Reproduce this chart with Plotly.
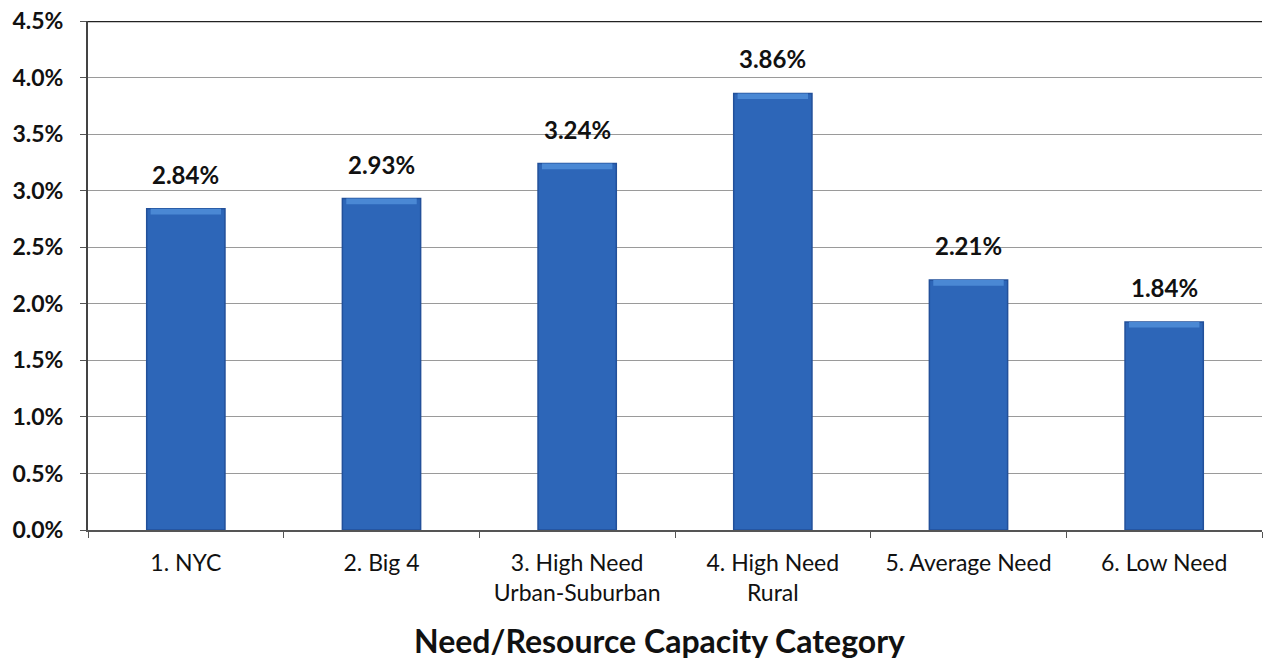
import plotly.graph_objects as go

categories = ["1. NYC", "2. Big 4", "3. High Need<br>Urban-Suburban", "4. High Need<br>Rural",
              "5. Average Need", "6. Low Need"]
values = [2.84, 2.93, 3.24, 3.86, 2.21, 1.84]
y_ticks = [0, 0.5, 1.0, 1.5, 2.0, 2.5, 3.0, 3.5, 4.0, 4.5]

FONT = "Lato, Open Sans, sans-serif"
BEVEL = 0.05  # depth of the lighter cap drawn on top of each bar

fig = go.Figure()

# Main columns
fig.add_trace(go.Bar(
    x=categories,
    y=values,
    marker=dict(color="#2D66B8", line=dict(color="#22509A", width=1.5)),
    hoverinfo="skip",
))

# Lighter bevel cap at the top of each column
fig.add_trace(go.Bar(
    x=categories,
    y=[BEVEL] * len(values),
    base=[v - BEVEL for v in values],
    marker=dict(color="#4A88D4", line=dict(width=0)),
    width=0.36,
    hoverinfo="skip",
))

# Value labels above the columns
for c, v in zip(categories, values):
    fig.add_annotation(
        x=c, y=v, text=f"{v:.2f}%", showarrow=False,
        yanchor="bottom", yshift=18,
        font=dict(family=FONT, size=24, color="#111111", weight="bold"),
    )

# Axis title
fig.add_annotation(
    xref="paper", yref="paper", x=0.487, y=0, yanchor="middle", yshift=-110,
    text="Need/Resource Capacity Category", showarrow=False,
    font=dict(family=FONT, size=32, color="#111111", weight="bold"),
)

fig.update_layout(
    width=1266,
    height=665,
    margin=dict(l=88, r=4, t=21, b=135),
    paper_bgcolor="white",
    plot_bgcolor="white",
    barmode="overlay",
    bargap=0.6,
    showlegend=False,
    xaxis=dict(
        tickfont=dict(family=FONT, size=23, color="#111111"),
        showline=True, linecolor="#555555", linewidth=2,
        ticks="outside", ticklen=6, tickcolor="#555555",
        tickson="boundaries",
        ticklabelstandoff=11,
    ),
    yaxis=dict(
        range=[0, 4.5],
        tickvals=y_ticks,
        ticktext=[f"{t:.1f}%" for t in y_ticks],
        tickfont=dict(family=FONT, size=23, color="#111111", weight="bold"),
        showgrid=True, gridcolor="#9a9a9a", gridwidth=1,
        showline=True, linecolor="#444444", linewidth=2,
        ticks="outside", ticklen=6, tickcolor="#555555",
        ticklabelstandoff=12,
        zeroline=False,
    ),
)

# Dark frame line along the top of the plot area
fig.add_shape(type="line", xref="paper", yref="y", x0=0, x1=1, y0=4.5, y1=4.5,
              line=dict(color="#222222", width=2.5))

fig.write_html("out.html")
